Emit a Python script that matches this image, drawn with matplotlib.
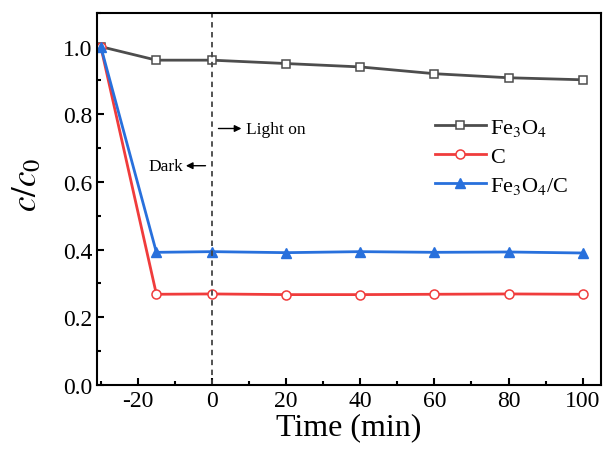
import matplotlib
matplotlib.use("Agg")
import matplotlib.pyplot as plt
from matplotlib.ticker import MultipleLocator

plt.rcParams["font.family"] = ["Liberation Serif", "DejaVu Serif"]
plt.rcParams["mathtext.fontset"] = "stix"
plt.rcParams["axes.unicode_minus"] = False

time = [-30, -15, 0, 20, 40, 60, 80, 100]
fe3o4 = [1.0, 0.96, 0.96, 0.95, 0.94, 0.92, 0.908, 0.902]
carbon = [1.0, 0.268, 0.269, 0.267, 0.267, 0.268, 0.269, 0.268]
fe3o4_c = [1.0, 0.392, 0.394, 0.391, 0.394, 0.392, 0.393, 0.390]

fig = plt.figure(figsize=(6.03, 4.60), dpi=100)
ax = fig.add_axes([0.161, 0.161, 0.836, 0.809])

ax.plot(time, fe3o4, color="#4d4d4d", lw=2, marker="s", ms=6,
        mfc="white", mec="#4d4d4d", mew=1.1, label=r"Fe$_3$O$_4$")
ax.plot(time, carbon, color="#f03c3c", lw=2, marker="o", ms=6.5,
        mfc="white", mec="#f03c3c", mew=1.1, label="C")
ax.plot(time, fe3o4_c, color="#2870dc", lw=2, marker="^", ms=7,
        mfc="#2870dc", mec="#2870dc", label=r"Fe$_3$O$_4$/C")

ax.axvline(0, color="#444444", ls=(0, (3, 2.5)), lw=1.3)

ax.annotate("", xy=(8.7, 0.758), xytext=(1.0, 0.758),
            arrowprops=dict(arrowstyle="-|>", color="black", lw=1, mutation_scale=10))
ax.text(9.1, 0.758, "Light on", fontsize=12.5, va="center", ha="left")
ax.annotate("", xy=(-7.8, 0.648), xytext=(-1.0, 0.648),
            arrowprops=dict(arrowstyle="-|>", color="black", lw=1, mutation_scale=10))
ax.text(-7.9, 0.648, "Dark", fontsize=12.5, va="center", ha="right")

ax.set_xlim(-31, 105)
ax.set_ylim(0, 1.1)
ax.xaxis.set_major_locator(MultipleLocator(20))
ax.xaxis.set_minor_locator(MultipleLocator(10))
ax.yaxis.set_major_locator(MultipleLocator(0.2))
ax.yaxis.set_minor_locator(MultipleLocator(0.1))
ax.yaxis.set_major_formatter(plt.FuncFormatter(lambda v, p: f"{v:.1f}"))
ax.tick_params(which="both", direction="in", width=1.5, labelsize=17)
ax.tick_params(which="major", length=5)
ax.tick_params(which="minor", length=3)
for s in ax.spines.values():
    s.set_linewidth(1.5)

ax.set_xlabel("Time (min)", fontsize=23, labelpad=1)
ax.set_ylabel(r"$\mathit{c/c_0}$", fontsize=25)
ax.yaxis.set_label_coords(-0.105, 0.54)

ax.legend(loc="upper right", bbox_to_anchor=(0.975, 0.775), frameon=False,
          fontsize=16, handlelength=2.3, labelspacing=0.38, handletextpad=0.2)

fig.savefig("out.png", dpi=100)
